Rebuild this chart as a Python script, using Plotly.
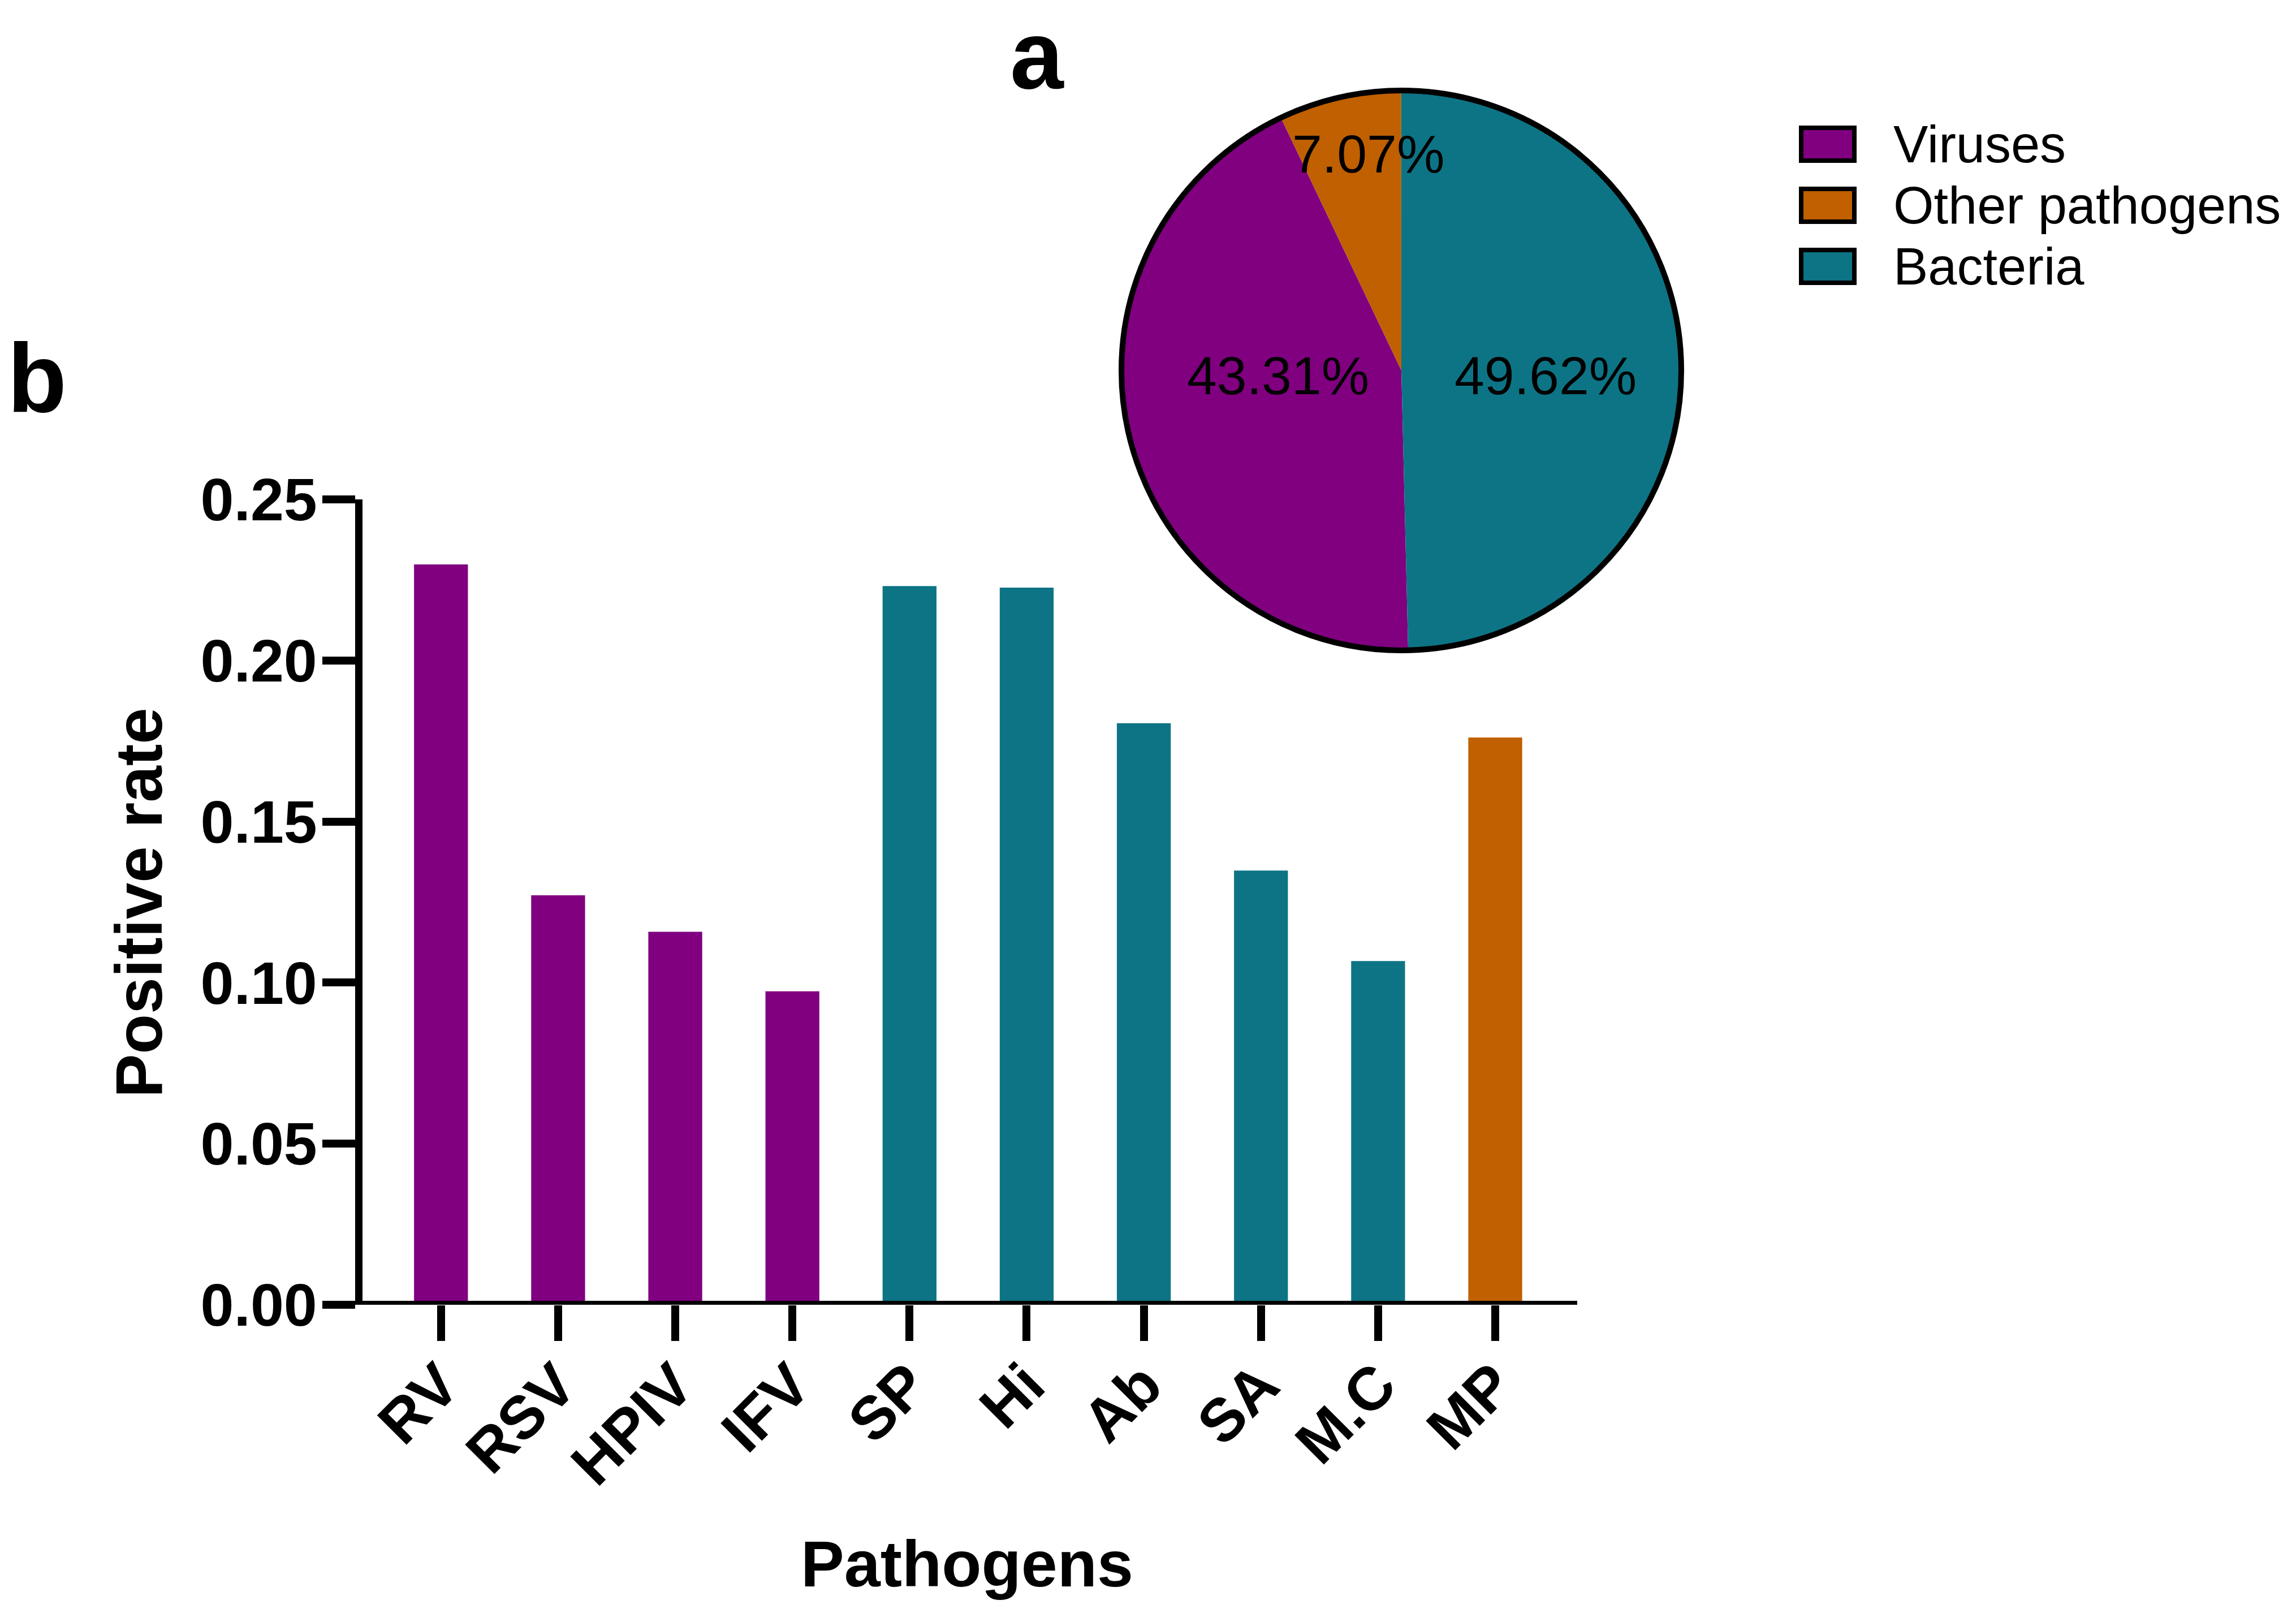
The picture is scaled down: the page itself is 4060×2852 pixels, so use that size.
import plotly.graph_objects as go

W, H = 4060, 2852

# bar panel (b)
pathogens = ["RV", "RSV", "HPIV", "IFV", "SP", "Hi", "Ab", "SA", "M.C", "MP"]
groups = ["Viruses", "Viruses", "Viruses", "Viruses",
          "Bacteria", "Bacteria", "Bacteria", "Bacteria", "Bacteria",
          "Other pathogens"]
positive_rate = [0.2298, 0.1271, 0.1158, 0.0973, 0.2231, 0.2226, 0.1805, 0.1348, 0.1067, 0.1761]
y_ticks = [0.00, 0.05, 0.10, 0.15, 0.20, 0.25]

# pie panel (a)
pie_labels = ["Viruses", "Other pathogens", "Bacteria"]
pie_values = [43.31, 7.07, 49.62]

colors = {"Viruses": "#800080", "Bacteria": "#0D7485", "Other pathogens": "#C06000"}
FONT = "Liberation Sans, Arial, sans-serif"


def px_x(p):
    return p / W


def px_y(p):
    return 1 - p / H


fig = go.Figure()

fig.add_trace(go.Bar(
    x=pathogens, y=positive_rate, width=0.46,
    marker=dict(color=[colors[g] for g in groups], line=dict(width=0)),
    showlegend=False,
))

# pie, slices start at the bottom and run clockwise
fig.add_trace(go.Pie(
    labels=pie_labels, values=pie_values, sort=False,
    direction="clockwise", rotation=178.6,
    marker=dict(colors=[colors[l] for l in pie_labels], line=dict(width=0)),
    textinfo="none", hoverinfo="label+percent", showlegend=False,
    domain=dict(x=[px_x(1983), px_x(2973)], y=[px_y(1150), px_y(160)]),
))

fig.update_layout(
    width=W, height=H, autosize=False,
    margin=dict(l=0, r=0, t=0, b=0, autoexpand=False),
    paper_bgcolor="white", plot_bgcolor="white",
    font=dict(family=FONT, color="black"),
    xaxis=dict(
        domain=[px_x(641), px_x(2789)], range=[-0.67, 9.7],
        automargin=False,
        showline=False, showgrid=False, zeroline=False,
        ticks="outside", ticklen=63, tickwidth=14, tickcolor="black",
        ticklabelstandoff=-28,
        tickangle=-45, tickfont=dict(family=FONT, size=107, color="black", weight="bold"),
    ),
    yaxis=dict(
        domain=[px_y(2307), px_y(883)], range=[0, 0.25],
        automargin=False,
        tickvals=y_ticks, tickformat=".2f",
        showline=True, linewidth=13, linecolor="black",
        showgrid=False, zeroline=False,
        ticks="outside", ticklen=58, tickwidth=14, tickcolor="black",
        ticklabelstandoff=-12,
        tickfont=dict(family=FONT, size=106, color="black", weight="bold"),
    ),
)

shapes = [
    # x axis line, running out to the left past the y axis like the original
    dict(type="line", xref="paper", yref="y", x0=px_x(583), x1=px_x(2789), y0=0, y1=0,
         line=dict(color="black", width=14)),
    # pie outline
    dict(type="circle", xref="paper", yref="paper",
         x0=px_x(1983), x1=px_x(2973), y0=px_y(1150), y1=px_y(160),
         line=dict(color="black", width=10)),
]

# legend boxes
legend_y = [255, 363, 471]
for lab, yc in zip(pie_labels, legend_y):
    shapes.append(dict(type="rect", xref="paper", yref="paper",
                       x0=px_x(3185), x1=px_x(3279), y0=px_y(yc + 29), y1=px_y(yc - 29),
                       fillcolor=colors[lab], line=dict(color="black", width=8)))

annotations = [
    dict(text="<b>a</b>", x=px_x(1834), y=1, yanchor="top", font=dict(size=170)),
    dict(text="<b>b</b>", x=px_x(65), y=px_y(668), font=dict(size=172)),
    dict(text="<b>Positive rate</b>", x=px_x(246), y=px_y(1596), textangle=-90,
         font=dict(size=116)),
    dict(text="<b>Pathogens</b>", x=px_x(1710), y=px_y(2765), font=dict(size=115)),
]

# percentage labels on the pie
pie_text_pos = {"Viruses": (2260, 664), "Other pathogens": (2419, 272), "Bacteria": (2733, 664)}
for lab, val in zip(pie_labels, pie_values):
    xc, yc = pie_text_pos[lab]
    annotations.append(dict(text=f"{val:.2f}%", x=px_x(xc), y=px_y(yc), font=dict(size=95)))

for lab, yc in zip(pie_labels, legend_y):
    annotations.append(dict(text=lab, x=px_x(3346), y=px_y(yc), xanchor="left",
                            font=dict(size=92)))

for a in annotations:
    a.setdefault("xanchor", "center")
    a.setdefault("yanchor", "middle")
    a["xref"] = "paper"
    a["yref"] = "paper"
    a["showarrow"] = False
    a["font"] = dict(family=FONT, color="black", **a["font"])

fig.update_layout(shapes=shapes, annotations=annotations)

fig.write_html("out.html", config={"displayModeBar": False},
               post_script="document.body.style.margin='0';")
